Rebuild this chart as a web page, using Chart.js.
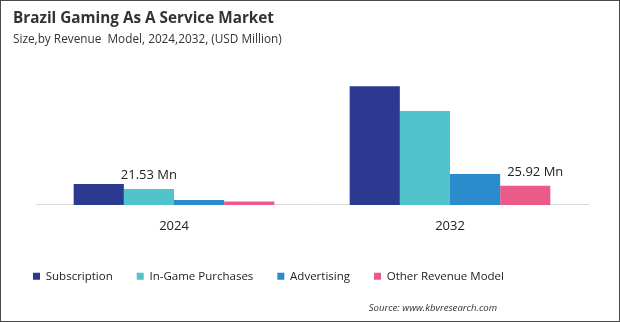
<!DOCTYPE html>
<html>
<head>
<meta charset="utf-8">
<script src="https://cdn.jsdelivr.net/npm/chart.js@4.4.1/dist/chart.umd.min.js"></script>
<style>
  html, body { margin: 0; padding: 0; background: #fff; }
  #wrap { width: 620px; height: 322px; box-sizing: border-box; border: 1px solid #4a4a4a; position: relative; }
  canvas { display: block; }
</style>
</head>
<body>
<div id="wrap"><canvas id="chart" width="618" height="320"></canvas></div>
<script>
// data (USD Million)
const years = ['2024', '2032']
const subscription = [28.2, 160.5]
const inGame = [21.53, 126.9]
const advertising = [6.7, 41.7]
const otherRevenue = [4.5, 25.92]

const seriesNames = ['Subscription', 'In-Game Purchases', 'Advertising', 'Other Revenue Model']
const seriesColors = ['#2b3990', '#50c3cd', '#2b8ccd', '#ec5a88']

// value labels shown on the chart: [dataset, index, text]
const valueLabels = [
    [1, 0, '21.53 Mn'],
    [3, 1, '25.92 Mn']
]

const fontFamily = '"Open Sans", "Noto Sans", sans-serif'

//- title, labels above bars, source note -
const extrasPlugin = {
    id: 'extras',
    afterDatasetsDraw(chart) {
        const ctx = chart.ctx
        ctx.save()
        ctx.textBaseline = 'middle'
        ctx.textAlign = 'left'
        ctx.fillStyle = '#333'
        ctx.font = 'bold 15.3px ' + fontFamily
        ctx.fillText('Brazil Gaming As A Service Market', 12, 18)
        ctx.font = '11.8px ' + fontFamily
        ctx.fillText('Size,by Revenue  Model, 2024,2032, (USD Million)', 12, 39)

        ctx.font = '13px ' + fontFamily
        ctx.fillStyle = '#222'
        ctx.textAlign = 'center'
        ctx.textBaseline = 'bottom'
        valueLabels.forEach(([ds, idx, text]) => {
            const bar = chart.getDatasetMeta(ds).data[idx]
            const dx = idx === 1 ? 10 : 0
            ctx.fillText(text, bar.x + dx, bar.y - 7)
        })
        ctx.font = 'italic 9.6px ' + fontFamily
        ctx.fillStyle = '#333'
        ctx.textAlign = 'right'
        ctx.textBaseline = 'middle'
        ctx.fillText('Source: www.kbvresearch.com', 496, 307)
        ctx.restore()
    }
}

const datasets = [subscription, inGame, advertising, otherRevenue].map((values, i) => ({
    label: seriesNames[i],
    data: values,
    backgroundColor: seriesColors[i],
    borderWidth: 0,
    barPercentage: 1,
    categoryPercentage: 0.727
}))

new Chart(document.getElementById('chart').getContext('2d'), {
    type: 'bar',
    data: { labels: years, datasets: datasets },
    plugins: [extrasPlugin],
    options: {
        responsive: false,
        animation: false,
        layout: { padding: { left: 8, right: 31, top: 56, bottom: 29 } },
        plugins: {
            tooltip: { enabled: false },
            legend: {
                position: 'bottom',
                align: 'start',
                labels: {
                    boxWidth: 7,
                    boxHeight: 7,
                    padding: 24,
                    color: '#222',
                    font: { family: fontFamily, size: 11.5 }
                }
            }
        },
        scales: {
            x: {
                grid: { display: false, drawTicks: false },
                border: { display: true, color: '#d9d9d9' },
                ticks: { color: '#222', font: { family: fontFamily, size: 13 }, padding: 14 },
                afterFit(axis) { axis.height -= 2 }
            },
            y: {
                min: 0,
                max: 200,
                grid: { display: false, drawTicks: false },
                border: { display: false },
                ticks: { display: false },
                afterFit(axis) { axis.width = 27 }
            }
        }
    }
})
</script>
</body>
</html>
